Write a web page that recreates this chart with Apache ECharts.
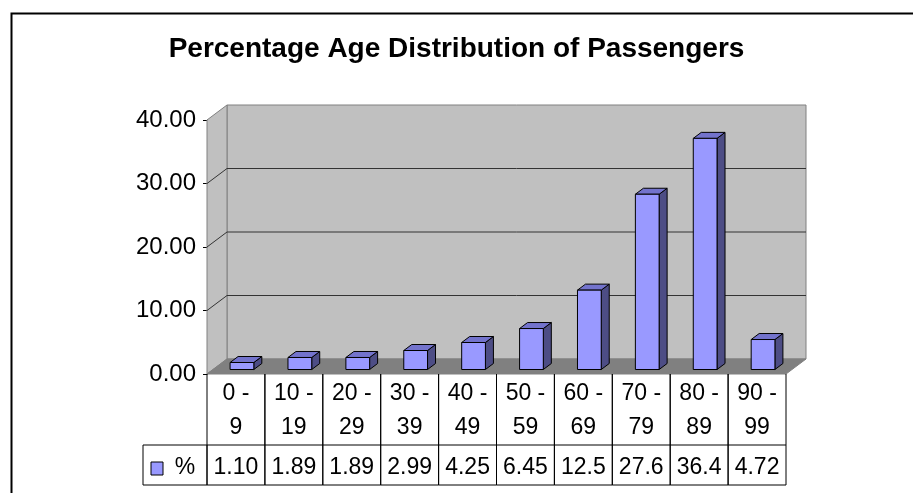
<!DOCTYPE html>
<html>
<head>
<meta charset="utf-8">
<script src="https://cdn.jsdelivr.net/npm/echarts@6/dist/echarts.min.js"></script>
<style>
  html, body { margin: 0; padding: 0; background: #fff; }
  #chart { width: 913px; height: 493px; }
</style>
</head>
<body>
<div id="chart"></div>
<script>
const categories = ['0 - 9', '10 - 19', '20 - 29', '30 - 39', '40 - 49', '50 - 59', '60 - 69', '70 - 79', '80 - 89', '90 - 99'];
const percent    = [1.10, 1.89, 1.89, 2.99, 4.25, 6.45, 12.5, 27.6, 36.4, 4.72];
const yTicks     = [0, 10, 20, 30, 40];
const seriesName = '%';

const FONT  = '"Liberation Sans", Arial, sans-serif';
const DX = 20, DY = -15;       // depth of the 3D box
const BDX = 8, BDY = -6;       // depth of a bar
const FDX = 6, FDY = -4.5;     // bar front face offset

const chart = echarts.init(document.getElementById('chart'));

function walls(params, api) {
    const half = api.size([1, 0])[0] / 2;
    const L = api.coord([0, 0])[0] - half;
    const R = api.coord([categories.length - 1, 0])[0] + half;
    const B = api.coord([0, yTicks[0]])[1];
    const T = api.coord([0, yTicks[yTicks.length - 1]])[1];
    const kids = [];
    kids.push({type: 'polygon', shape: {points: [[L + DX, T + DY], [R + DX, T + DY], [R + DX, B + DY], [L + DX, B + DY]]},
        style: {fill: '#c0c0c0', stroke: '#808080', lineWidth: 1}});
    kids.push({type: 'polygon', shape: {points: [[L, T], [L + DX, T + DY], [L + DX, B + DY], [L, B]]},
        style: {fill: '#c0c0c0', stroke: '#808080', lineWidth: 1}});
    kids.push({type: 'polygon', shape: {points: [[L, B], [R, B], [R + DX, B + DY], [L + DX, B + DY]]},
        style: {fill: '#808080', stroke: '#808080', lineWidth: 1}});
    yTicks.slice(1, -1).forEach(v => {
        const y = api.coord([0, v])[1];
        kids.push({type: 'line', shape: {x1: L + DX, y1: y + DY, x2: R + DX, y2: y + DY}, style: {stroke: '#333', lineWidth: 1}});
        kids.push({type: 'line', shape: {x1: L, y1: y, x2: L + DX, y2: y + DY}, style: {stroke: '#333', lineWidth: 1}});
    });
    return {type: 'group', children: kids};
}

function bar3d(params, api) {
    const i = api.value(0);
    const bw = api.size([1, 0])[0];
    const w = bw * 0.41;
    const c = api.coord([i, 0]);
    const x1 = c[0] - w / 2 + FDX, x2 = x1 + w;
    const yb = c[1] + FDY;
    const yt = api.coord([i, api.value(1)])[1] + FDY;
    const st = {stroke: '#000', lineWidth: 1, lineJoin: 'round'};
    return {type: 'group', children: [
        {type: 'polygon', shape: {points: [[x2, yt], [x2 + BDX, yt + BDY], [x2 + BDX, yb + BDY], [x2, yb]]},
            style: Object.assign({fill: '#4d4d85'}, st)},
        {type: 'polygon', shape: {points: [[x1, yt], [x2, yt], [x2 + BDX, yt + BDY], [x1 + BDX, yt + BDY]]},
            style: Object.assign({fill: '#7373cc'}, st)},
        {type: 'rect', shape: {x: x1, y: yt, width: w, height: yb - yt},
            style: Object.assign({fill: '#9999ff'}, st)}
    ]};
}

function txt(s, x, y) {
    return {type: 'text', style: {text: s, x: x, y: y, font: '23px ' + FONT, fill: '#000',
        textAlign: 'center', textVerticalAlign: 'middle', align: 'center', verticalAlign: 'middle'}};
}

function tableCell(params, api) {
    const i = api.value(0);
    const bw = api.size([1, 0])[0];
    const c = api.coord([i, 0]);
    const B = c[1];
    const xl = c[0] - bw / 2, xr = c[0] + bw / 2;
    const r1 = B + 71, r2 = B + 111;
    const ln = {stroke: '#000', lineWidth: 1};
    const parts = categories[i].split(' - ');
    const kids = [
        {type: 'line', shape: {x1: xl, y1: B, x2: xl, y2: r2}, style: ln},
        {type: 'line', shape: {x1: xr, y1: B, x2: xr, y2: r2}, style: ln},
        {type: 'line', shape: {x1: xl, y1: r1, x2: xr, y2: r1}, style: ln},
        {type: 'line', shape: {x1: xl, y1: r2, x2: xr, y2: r2}, style: ln},
        txt(parts[0] + ' -', c[0], B + 20),
        txt(parts[1], c[0], B + 54),
        txt(api.value(1).toPrecision(3), c[0], B + 94)
    ];
    if (i === 0) {
        const lx = xl - 64;
        kids.push({type: 'rect', shape: {x: lx, y: r1, width: 64, height: r2 - r1}, style: {fill: 'none', stroke: '#000', lineWidth: 1}});
        kids.push({type: 'rect', shape: {x: lx + 8, y: r1 + 17, width: 12, height: 13}, style: {fill: '#9999ff', stroke: '#000', lineWidth: 1}});
        kids.push(txt(seriesName, lx + 42, B + 94));
    }
    return {type: 'group', children: kids};
}

const tableData = percent.map((v, i) => [i, v]);

chart.setOption({
    animation: false,
    backgroundColor: '#fff',
    title: {
        text: 'Percentage Age Distribution of Passengers',
        left: 'center', top: 30,
        textStyle: {fontFamily: FONT, fontSize: 28, fontWeight: 'bold', color: '#000'}
    },
    graphic: [{type: 'rect', left: 9, top: 11, shape: {width: 1000, height: 1000}, style: {fill: 'none', stroke: '#000', lineWidth: 2}}],
    grid: {left: 207, top: 120, width: 579, height: 254},
    xAxis: {
        type: 'category', data: categories,
        axisLine: {show: false}, axisTick: {show: false}, axisLabel: {show: false}
    },
    yAxis: {
        type: 'value', min: 0, max: 40, interval: 10,
        axisLine: {show: true, lineStyle: {color: '#000', width: 1}},
        axisTick: {show: true, length: 4, lineStyle: {color: '#000'}},
        splitLine: {show: false},
        axisLabel: {formatter: v => v.toFixed(2), fontFamily: FONT, fontSize: 24, color: '#000', margin: 11}
    },
    series: [
        {type: 'custom', name: 'walls', renderItem: walls, data: [[0, 0]], z: 1, silent: true},
        {type: 'custom', name: seriesName, renderItem: bar3d, data: tableData, z: 3},
        {type: 'custom', name: 'table', renderItem: tableCell, data: tableData, z: 4, silent: true}
    ]
});
</script>
</body>
</html>
